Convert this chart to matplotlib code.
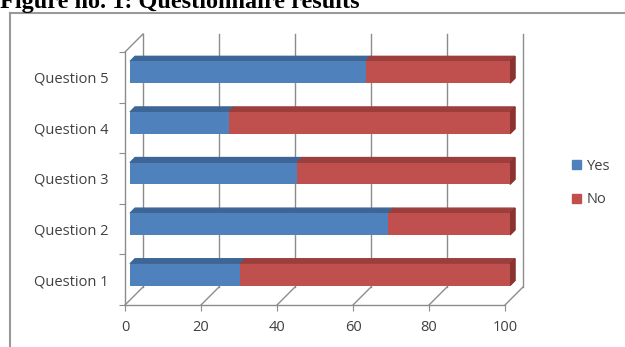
import matplotlib
matplotlib.use("Agg")
import matplotlib.pyplot as plt
from matplotlib.patches import Polygon, Patch
from matplotlib.lines import Line2D

questions = ["Question 1", "Question 2", "Question 3", "Question 4", "Question 5"]
yes = [29, 68, 44, 26, 62]
no = [71, 32, 56, 74, 38]
x_ticks = [0, 20, 40, 60, 80, 100]

blue, blue_top = "#4F81BD", "#3D6696"
red, red_top, red_side = "#C0504D", "#9C3F3C", "#8A3432"
wall = "#8C8C8C"
text_col = "#404040"

plt.rcParams["font.family"] = ["Open Sans", "DejaVu Sans"]

W, H = 625, 347
fig = plt.figure(figsize=(W / 100, H / 100), dpi=100)
ax = fig.add_axes([125 / W, 42 / H, 380 / W, 253 / H])
ax.set_xlim(0, 100)
ax.set_ylim(-0.5, 4.5)

# depth of the 3d box (18 px back and up) in data units
dx = 18 * 100 / 380
dy = 18 * 5 / 253
d0, d1 = 0.28, 0.56   # front and back of the bars inside the box
h = 0.43

# back wall gridlines, floor edges, left wall top
for v in x_ticks:
    ax.plot([v + dx, v + dx], [-0.5 + dy, 4.5 + dy], color=wall, lw=1, clip_on=False, zorder=1)
    ax.plot([v, v + dx], [-0.5, -0.5 + dy], color=wall, lw=1, clip_on=False, zorder=1)
ax.plot([0, dx], [4.5, 4.5 + dy], color=wall, lw=1, clip_on=False, zorder=1)

for i in range(len(questions)):
    segs = [(0, yes[i], blue, blue_top), (yes[i], yes[i] + no[i], red, red_top)]
    y0, y1 = i - h / 2, i + h / 2
    for left, right, front, top in segs:
        ax.barh(i + d0 * dy, right - left, left=left + d0 * dx, height=h,
                color=front, clip_on=False, zorder=3)
        ax.add_patch(Polygon([(left + d0 * dx, y1 + d0 * dy), (right + d0 * dx, y1 + d0 * dy),
                              (right + d1 * dx, y1 + d1 * dy), (left + d1 * dx, y1 + d1 * dy)],
                             closed=True, color=top, clip_on=False, zorder=2))
    end = yes[i] + no[i]
    ax.add_patch(Polygon([(end + d0 * dx, y0 + d0 * dy), (end + d1 * dx, y0 + d1 * dy),
                          (end + d1 * dx, y1 + d1 * dy), (end + d0 * dx, y1 + d0 * dy)],
                         closed=True, color=red_side, clip_on=False, zorder=2))

for s in ["top", "right"]:
    ax.spines[s].set_visible(False)
for s in ["left", "bottom"]:
    ax.spines[s].set_color(wall)
    ax.spines[s].set_linewidth(1)

ax.set_xticks(x_ticks)
ax.tick_params(axis="x", length=4, pad=7, color=wall, labelcolor=text_col, labelsize=10.5)
ax.set_yticks([-0.5, 0.5, 1.5, 2.5, 3.5, 4.5])
ax.set_yticklabels([])
ax.set_yticks(range(len(questions)), minor=True)
ax.set_yticklabels(questions, minor=True)
ax.tick_params(axis="y", which="major", length=4, color=wall)
ax.tick_params(axis="y", which="minor", length=0, pad=12, labelcolor=text_col, labelsize=10.5)

fig.legend(handles=[Patch(color=blue, label="Yes"), Patch(color=red, label="No")],
           loc="center left", bbox_to_anchor=(559 / W, 1 - 183 / H), frameon=False,
           handlelength=0.6, handleheight=0.6, handletextpad=0.4, labelspacing=1.3,
           fontsize=10.5, labelcolor=text_col)

# outer frame
fig.add_artist(Line2D([10 / W, 1], [1 - 13 / H, 1 - 13 / H], transform=fig.transFigure, color="#999999", lw=1.5))
fig.add_artist(Line2D([10 / W, 10 / W], [0, 1 - 13 / H], transform=fig.transFigure, color="#999999", lw=1.5))

fig.text(0, 1 - 8 / H, "Figure no. 1: Questionnaire results", family="Liberation Serif",
         weight="bold", fontsize=17.5, va="baseline", ha="left")

fig.savefig("out.png", dpi=100)
